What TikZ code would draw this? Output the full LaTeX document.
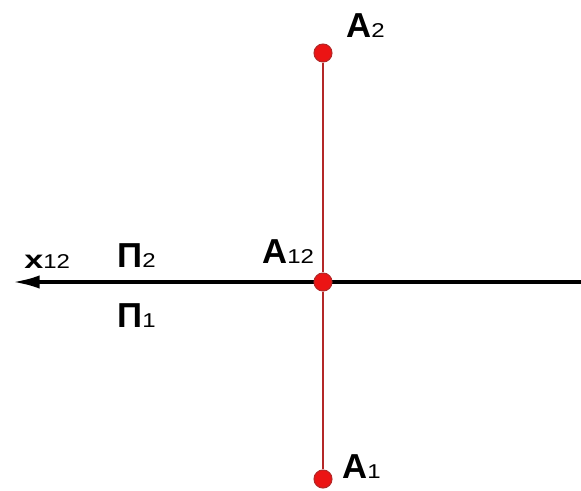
\documentclass[tikz,border=0pt]{standalone}
\usepackage{fontspec}
\setmainfont{Liberation Sans}
\usetikzlibrary{arrows.meta, positioning, backgrounds}

\definecolor{dotred}{RGB}{235,20,20}
\definecolor{linered}{RGB}{180,40,40}

\newcommand{\lsub}[1]{\scalebox{1.2}[1]{\fontsize{15}{15}\selectfont\mdseries #1}}

\begin{document}
\begin{tikzpicture}[x=0.75pt, y=-0.75pt,
  point/.style={circle, inner sep=0pt, minimum size=13.5pt, fill=dotred, draw=linered, line width=0.8pt},
  lbl/.style={font=\fontsize{26}{26}\selectfont\bfseries, inner sep=0pt, anchor=base west},
  axis/.style={line width=2.5pt, -{Latex[length=20pt, width=10pt]}},
  proj/.style={line width=2pt, linered},
]
  \useasboundingbox (0,0) rectangle (581,490);

  \coordinate (xr) at (581,282);
  \coordinate (xl) at (13,282);

  \node[point] (a2)  at (323,53)  {};
  \node[point] (a12) at (323,282) {};
  \node[point] (a1)  at (323,479) {};

  \begin{scope}[on background layer]
    \draw[axis] (xr) -- (xl);
    \draw[proj] (a2) -- (a12);
    \draw[proj] (a12) -- (a1);
  \end{scope}

  \node[lbl] (la2)  at (346,37)  {A\lsub{2}};
  \node[lbl] (la12) at (262,263) {A\lsub{12}};
  \node[lbl] (la1)  at (342,478) {A\lsub{1}};

  \node[lbl, font=\fontsize{19}{19}\selectfont\bfseries] (lx) at (24,268)
    {\scalebox{1.35}[1]{x}\lsub{12}};
  \node[lbl] (lp2) at (117,267) {Π\lsub{2}};
  \node[lbl] (lp1) at (117,327) {Π\lsub{1}};
\end{tikzpicture}
\end{document}
